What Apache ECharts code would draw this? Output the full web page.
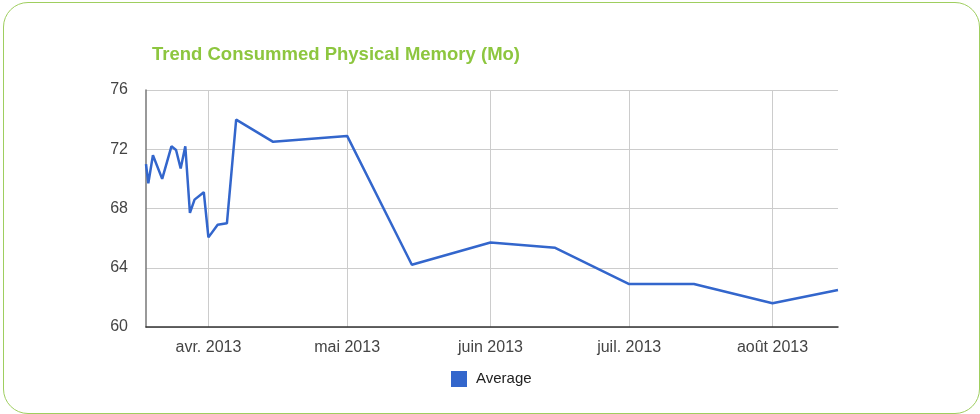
<!DOCTYPE html>
<html>
<head>
<meta charset="utf-8">
<script src="https://cdn.jsdelivr.net/npm/echarts@6/dist/echarts.min.js"></script>
<style>
  html, body { margin: 0; padding: 0; background: #ffffff; }
  #frame { position: absolute; left: 3px; top: 2px; width: 977px; height: 412px; box-sizing: border-box;
           border: 1.5px solid #9fce5f; border-radius: 25px; }
  #chart { position: absolute; left: 0; top: 0; width: 980px; height: 414px; }
</style>
</head>
<body>
<div id="frame"></div>
<div id="chart"></div>
<script>
// ---- data ----
const titleText = 'Trend Consummed Physical Memory (Mo)';
const seriesName = 'Average';
const dates = ['2013-03-18T12:00:00','2013-03-19','2013-03-20','2013-03-22','2013-03-24','2013-03-25',
               '2013-03-26','2013-03-27','2013-03-28','2013-03-29','2013-03-31','2013-04-01',
               '2013-04-03','2013-04-05','2013-04-07','2013-04-15','2013-05-01','2013-05-15',
               '2013-06-01','2013-06-15','2013-07-01','2013-07-15','2013-08-01','2013-08-15T04:00:00'];
const values = [71.0, 69.7, 71.6, 70.0, 72.2, 71.95,
                70.7, 72.2, 67.7, 68.6, 69.1, 66.05,
                66.9, 67.0, 74.0, 72.5, 72.9, 64.2,
                65.7, 65.35, 62.9, 62.9, 61.6, 62.5];
const monthNames = ['janv.','févr.','mars','avr.','mai','juin','juil.','août','sept.','oct.','nov.','déc.'];
const yMin = 60, yMax = 76, yStep = 4;

const chart = echarts.init(document.getElementById('chart'), null, { renderer: 'canvas' });
const pts = dates.map((d, i) => [new Date(d).getTime(), values[i]]);
chart.setOption({
  animation: false,
  backgroundColor: 'transparent',
  title: {
    text: titleText, left: 147, top: 40,
    textStyle: { color: '#8dc63f', fontFamily: 'Liberation Sans, Arial, sans-serif', fontWeight: 'bold', fontSize: 18.5 }
  },
  legend: {
    data: [seriesName], left: 451, top: 371, padding: 0, icon: 'rect', itemWidth: 16, itemHeight: 16,
    textStyle: { color: '#222', fontFamily: 'Liberation Sans, Arial, sans-serif', fontSize: 15, padding: [0, 0, 0, 4] }
  },
  grid: { left: 146, top: 90, width: 692, height: 237, containLabel: false },
  xAxis: {
    type: 'time',
    min: pts[0][0], max: pts[pts.length - 1][0],
    axisLine: { show: true, lineStyle: { color: '#333', width: 1.5 } },
    axisTick: { show: false },
    splitLine: { show: true, showMinLine: false, showMaxLine: false, lineStyle: { color: '#cccccc', width: 1 } },
    axisLabel: {
      color: '#444', fontFamily: 'Liberation Sans, Arial, sans-serif', fontSize: 16, margin: 13,
      showMinLabel: false, showMaxLabel: false,
      formatter: function (v) { const d = new Date(v); return monthNames[d.getMonth()] + ' ' + d.getFullYear(); }
    }
  },
  yAxis: {
    type: 'value', min: yMin, max: yMax, interval: yStep,
    axisLine: { show: true, lineStyle: { color: '#777', width: 1.5 } },
    axisTick: { show: false },
    splitLine: { show: true, lineStyle: { color: '#cccccc', width: 1 } },
    axisLabel: { color: '#444', fontFamily: 'Liberation Sans, Arial, sans-serif', fontSize: 16, margin: 18 }
  },
  series: [{
    name: seriesName, type: 'line', data: pts, showSymbol: false, symbol: 'none',
    itemStyle: { color: '#3366cc' },
    lineStyle: { color: '#3366cc', width: 2.5 }
  }]
});
</script>
</body>
</html>
